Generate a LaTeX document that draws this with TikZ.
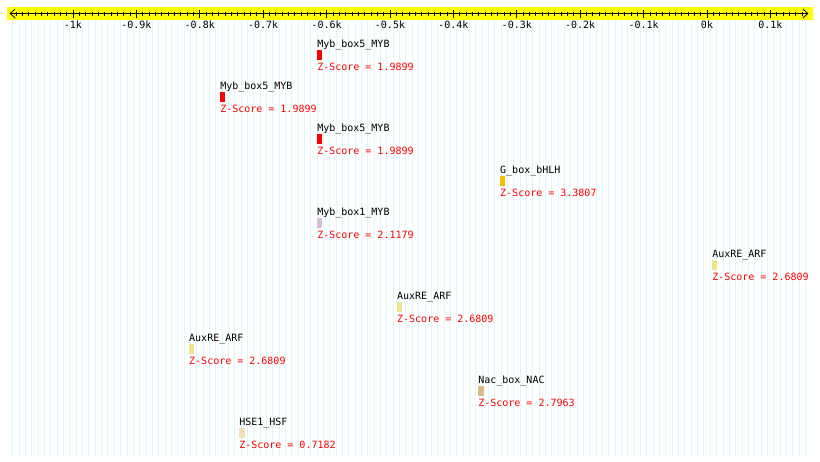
\documentclass[tikz,border=0pt]{standalone}
\usepackage{fontspec}
\setmonofont{DejaVu Sans Mono}
\usetikzlibrary{arrows.meta}
\definecolor{axisyellow}{HTML}{FFFF00}
\definecolor{gridcyan}{HTML}{D8FAFA}
\definecolor{mybred}{HTML}{FF0000}
\definecolor{gboxgold}{HTML}{F2C200}
\definecolor{mybthistle}{HTML}{D8BFD8}
\definecolor{auxkhaki}{HTML}{F0E68C}
\definecolor{nacwood}{HTML}{DEB887}
\definecolor{hsewheat}{HTML}{F5DEB3}
\definecolor{scorered}{HTML}{FF0000}

\begin{document}
\begin{tikzpicture}[
    x=0.634pt, y=-1pt,
    every node/.style={font=\ttfamily\fontsize{10}{12}\selectfont, inner sep=0pt},
    axis line/.style={line width=0.8pt,
        {Straight Barb[length=5pt,width=9pt]}-{Straight Barb[length=5pt,width=9pt]}},
    major tick/.style={line width=0.8pt},
    minor tick/.style={line width=0.8pt},
    grid line/.style={gridcyan, line width=0.7pt},
    site/.style={draw=none, minimum height=10pt, anchor=north west},
    site name/.style={anchor=base west, text=black},
    score label/.style={anchor=base west, text=scorered}
]
    \useasboundingbox (-1115.1,0) rectangle (178.2,461);

    % 背景格線
    \foreach \t in {-1095,-1085,...,155}
        \draw[grid line] (\t,20) -- (\t,456);

    % 座標軸
    \fill[axisyellow] (-1104,7) rectangle (167,20);
    \coordinate (axis-w) at (-1100,13.5);
    \coordinate (axis-e) at (160,13.5);
    \draw[axis line] (axis-w) -- (axis-e);
    \foreach \t in {-1090,-1080,...,150}
        \draw[minor tick] (\t,11.5) -- (\t,16);
    \foreach \t/\lab in {-1000/-1k,-900/-0.9k,-800/-0.8k,-700/-0.7k,-600/-0.6k,
                         -500/-0.5k,-400/-0.4k,-300/-0.3k,-200/-0.2k,-100/-0.1k,
                         0/0k,100/0.1k}
    {
        \draw[major tick] (\t,10) -- (\t,18);
        \node[anchor=base] (tick\t) at (\t,28.5) {\lab};
    }

    % 各個位點
    \foreach \i/\s/\l/\name/\col/\score in {
        1/-615/7/Myb\_box5\_MYB/mybred/1.9899,
        2/-768/7/Myb\_box5\_MYB/mybred/1.9899,
        3/-615/7/Myb\_box5\_MYB/mybred/1.9899,
        4/-326.5/8/G\_box\_bHLH/gboxgold/3.3807,
        5/-615/7/Myb\_box1\_MYB/mybthistle/2.1179,
        6/8/7/AuxRE\_ARF/auxkhaki/2.6809,
        7/-489/7/AuxRE\_ARF/auxkhaki/2.6809,
        8/-817/7/AuxRE\_ARF/auxkhaki/2.6809,
        9/-361/9/Nac\_box\_NAC/nacwood/2.7963,
        10/-738/9/HSE1\_HSF/hsewheat/0.7182}
    {
        \pgfmathsetmacro{\rowy}{49.3+42*(\i-1)}
        \node[site, fill=\col, minimum width=\l*0.634pt] (site-\i) at (\s,\rowy) {};
        \node[site name] (name-\i) at ([yshift=2.3pt]site-\i.north west) {\name};
        \node[score label] (score-\i) at ([yshift=-20.7pt]site-\i.north west) {Z-Score = \score};
    }
\end{tikzpicture}
\end{document}
